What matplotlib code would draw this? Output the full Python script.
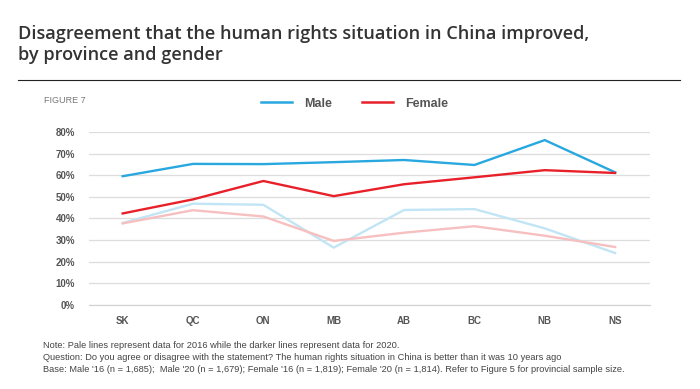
import matplotlib
matplotlib.use('Agg')
import matplotlib.pyplot as plt
from matplotlib.lines import Line2D

provinces = ['SK', 'QC', 'ON', 'MB', 'AB', 'BC', 'NB', 'NS']
male_2020 = [59.5, 65.2, 65.1, 66.0, 67.0, 64.7, 76.2, 61.3]
female_2020 = [42.3, 48.8, 57.3, 50.3, 55.8, 59.0, 62.3, 61.0]
male_2016 = [37.9, 46.8, 46.3, 26.5, 43.9, 44.3, 35.4, 24.0]
female_2016 = [37.7, 43.8, 40.9, 29.6, 33.4, 36.4, 32.0, 26.8]
yticks = [0, 10, 20, 30, 40, 50, 60, 70, 80]

blue = '#29a8e0'
red = '#e8202a'
pale_blue = '#c2e5f5'
pale_red = '#f6c0c1'
grey_text = '#555555'

fig = plt.figure(figsize=(7, 3.89), dpi=100)
ax = fig.add_axes([0.127, 0.216, 0.802, 0.445])

x = range(len(provinces))
ax.plot(x, male_2016, color=pale_blue, lw=1.7)
ax.plot(x, female_2016, color=pale_red, lw=1.7)
ax.plot(x, male_2020, color=blue, lw=1.7)
ax.plot(x, female_2020, color=red, lw=1.7)

ax.set_ylim(0, 80)
ax.set_xlim(-0.48, 7.5)
ax.set_yticks(yticks)
ax.set_yticklabels(['{}%'.format(v) for v in yticks])
ax.set_xticks(list(x))
ax.set_xticklabels(provinces)
ax.grid(axis='y', color='#dddddd', lw=0.9)
ax.set_axisbelow(True)
for side in ['top', 'right', 'left']:
    ax.spines[side].set_visible(False)
ax.spines['bottom'].set_color('#d0d0d0')
ax.tick_params(length=0, labelsize=7, colors=grey_text)
ax.tick_params(axis='y', pad=10)
ax.tick_params(axis='x', pad=8)
for lab in ax.get_xticklabels() + ax.get_yticklabels():
    lab.set_family('Liberation Sans')
    lab.set_fontweight('bold')

handles = [Line2D([], [], color=blue, lw=1.8), Line2D([], [], color=red, lw=1.8)]
fig.legend(handles, ['Male', 'Female'], loc='center', bbox_to_anchor=(0.506, 0.733),
           ncol=2, frameon=False, handlelength=2.5, columnspacing=2.4, handletextpad=0.95,
           prop={'family': 'Liberation Sans', 'weight': 'bold', 'size': 9})
for t in fig.legends[0].get_texts():
    t.set_color(grey_text)

fig.text(0.026, 0.935, 'Disagreement that the human rights situation in China improved,\nby province and gender',
         fontsize=13.1, fontweight='semibold', family='Open Sans', color='#333333', va='top',
         linespacing=1.2)
fig.add_artist(Line2D([0.026, 0.972], [0.794, 0.794], color='#222222', lw=0.8))
fig.text(0.063, 0.742, 'FIGURE 7', fontsize=6.5, family='Liberation Sans', color='#777777', va='center')

notes = ["Note: Pale lines represent data for 2016 while the darker lines represent data for 2020.",
         "Question: Do you agree or disagree with the statement? The human rights situation in China is better than it was 10 years ago",
         "Base: Male '16 (n = 1,685);  Male '20 (n = 1,679); Female '16 (n = 1,819); Female '20 (n = 1,814). Refer to Figure 5 for provincial sample size."]
for i, line in enumerate(notes):
    fig.text(0.062, 0.113 - i * 0.031, line, fontsize=6.7, family='Liberation Sans', color='#444444', va='center')

fig.savefig('out.png', dpi=100)
